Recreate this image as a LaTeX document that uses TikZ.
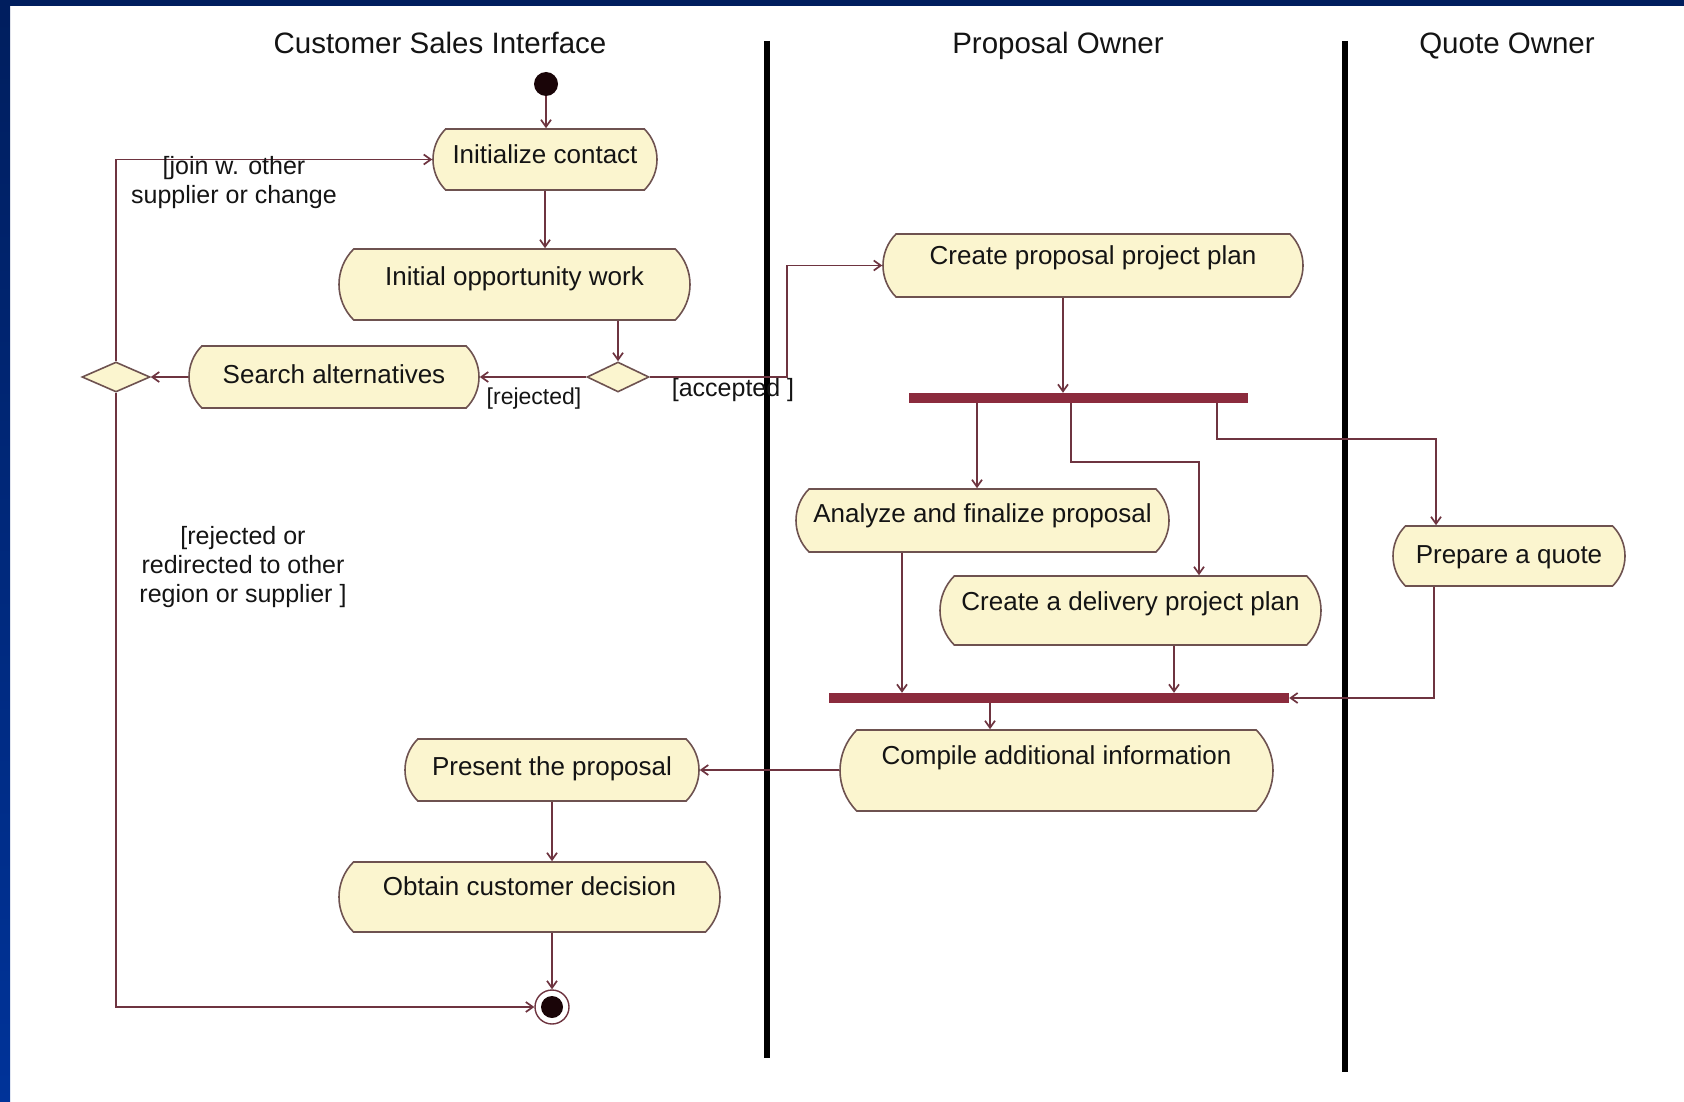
\documentclass[tikz,border=0pt]{standalone}
\usepackage{fontspec}
\setmainfont{Liberation Sans}
\usetikzlibrary{arrows.meta,shapes.misc,shapes.geometric}
\definecolor{navytop}{HTML}{001E5E}
\definecolor{navybot}{HTML}{003399}
\definecolor{actfill}{HTML}{FBF5CF}
\definecolor{actedge}{HTML}{6E5250}
\definecolor{flow}{HTML}{6E3440}
\definecolor{barcol}{HTML}{8B2B3D}
\definecolor{inkcol}{HTML}{141414}
\definecolor{dotcol}{HTML}{1A0508}

\begin{document}
\begin{tikzpicture}[x=1pt,y=-1pt,
  activity/.style={rounded rectangle, rounded rectangle arc length=90,
    draw=actedge, line width=1.6pt, fill=actfill, inner sep=0pt,
    font=\fontsize{26}{30}\selectfont, text=inkcol},
  decision/.style={diamond, draw=actedge, line width=1.6pt, fill=actfill,
    inner sep=0pt, minimum height=30pt},
  syncbar/.style={rectangle, fill=barcol, inner sep=0pt, minimum height=10pt},
  flowline/.style={draw=flow, line width=1.7pt},
  flowarrow/.style={flowline, -{Straight Barb[length=7pt,width=10pt]}},
  guard/.style={font=\fontsize{25}{29}\selectfont, text=inkcol, align=center, inner sep=0pt},
  lanetitle/.style={font=\fontsize{29.5}{32}\selectfont, text=inkcol, inner sep=0pt, anchor=base},
  laneline/.style={line width=6pt, draw=black},
]
% page and frame
\useasboundingbox (0,0) rectangle (1684,1102);
\fill[white] (0,0) rectangle (1684,1102);
\fill[navytop] (0,0) rectangle (1684,6);
\shade[top color=navytop, bottom color=navybot] (0,0) rectangle (10,1102);

% swimlanes
\draw[laneline] (767,41) -- (767,1058);
\draw[laneline] (1345,41) -- (1345,1072);
\node[lanetitle] (t1) at (440,54) {Customer Sales Interface};
\node[lanetitle] (t2) at (1058,54) {Proposal Owner};
\node[lanetitle] (t3) at (1507,54) {Quote Owner};

% activities
\node[activity, minimum width=224pt, text height=35pt, text depth=26pt] (init) at (545,159.5) {Initialize contact};
\node[activity, minimum width=351pt, text height=36pt, text depth=35pt] (opp) at (514.5,284.5) {Initial opportunity work};
\node[activity, minimum width=290pt, text height=37pt, text depth=25pt] (search) at (334,377) {Search alternatives};
\node[activity, minimum width=420pt, text height=31pt, text depth=32pt] (cpp) at (1093,265.5) {Create proposal project plan};
\node[activity, minimum width=373pt, text height=33pt, text depth=30pt] (analyze) at (982.5,520.5) {Analyze and finalize proposal};
\node[activity, minimum width=381pt, text height=34pt, text depth=35pt] (delivery) at (1130.5,610.5) {Create a delivery project plan};
\node[activity, minimum width=232pt, text height=37pt, text depth=23pt] (quote) at (1509,556) {Prepare a quote};
\node[activity, minimum width=433pt, text height=34pt, text depth=47pt] (compile) at (1056.5,770.5) {Compile additional information};
\node[activity, minimum width=294pt, text height=36pt, text depth=26pt] (present) at (552,770) {Present the proposal};
\node[activity, minimum width=381pt, text height=33pt, text depth=37pt] (obtain) at (529.5,897) {Obtain customer decision};

% decisions
\node[decision, minimum width=62pt] (dec1) at (618,377) {};
\node[decision, minimum width=68pt] (dec2) at (116,377) {};

% fork and join bars
\node[syncbar, minimum width=339pt] (fork) at (1078.5,398) {};
\node[syncbar, minimum width=460pt] (join) at (1059,698) {};

% initial and final states
\node[circle, fill=dotcol, inner sep=0pt, minimum size=24pt] (start) at (546,84) {};
\node[circle, draw=flow, line width=1.4pt, fill=white, inner sep=0pt, minimum size=34pt,
  path picture={\fill[dotcol] (path picture bounding box.center) circle (11pt);}] (final) at (552,1007) {};

% branch positions
\coordinate (xa) at (1063,0);
\coordinate (xb) at (977,0);
\coordinate (kb) at (1071,462);
\coordinate (xc) at (1199,0);
\coordinate (kq) at (1217,439);
\coordinate (xq) at (1436,0);
\coordinate (xd) at (902,0);
\coordinate (xe) at (1174,0);
\coordinate (xg) at (1434,0);
\coordinate (xf) at (990,0);
\coordinate (acc) at (787,377);

% flows
\draw[flowarrow] (start.south) -- (start.south |- init.north);
\draw[flowarrow] (init.south) -- (init.south |- opp.north);
\draw[flowarrow] (dec1.north |- opp.south) -- (dec1.north);
\draw[flowarrow] (dec1.west) -- (search.east |- dec1.west);
\draw[flowarrow] (search.west) -- (dec2.east);
\draw[flowarrow] (dec2.north) |- (init.west);
\draw[flowarrow] (dec2.south) |- (final.west);
\draw[flowarrow] (dec1.east) -- (acc) |- (cpp.west);
\draw[flowarrow] (cpp.south -| xa) -- (fork.north -| xa);
\draw[flowarrow] (fork.south -| xb) -- (analyze.north -| xb);
\draw[flowarrow] (fork.south -| kb) -- (kb) -| (delivery.north -| xc);
\draw[flowarrow] (fork.south -| kq) -- (kq) -| (quote.north -| xq);
\draw[flowarrow] (analyze.south -| xd) -- (join.north -| xd);
\draw[flowarrow] (delivery.south -| xe) -- (join.north -| xe);
\draw[flowarrow] (quote.south -| xg) |- (join.east);
\draw[flowarrow] (join.south -| xf) -- (compile.north -| xf);
\draw[flowarrow] (compile.west |- present.east) -- (present.east);
\draw[flowarrow] (present.south) -- (present.south |- obtain.north);
\draw[flowarrow] (final.north |- obtain.south) -- (final.north);

% guards
\node[guard] (gjoin) at (234,183) {[join w. other\\supplier or change};
\node[guard] (gredir) at (243,567) {[rejected or\\redirected to other\\region or supplier ]};
\node[guard, font=\fontsize{23}{27}\selectfont] (grej) at (534,399) {[rejected]};
\node[guard] (gacc) at (733,390) {[accepted ]};
\end{tikzpicture}
\end{document}
